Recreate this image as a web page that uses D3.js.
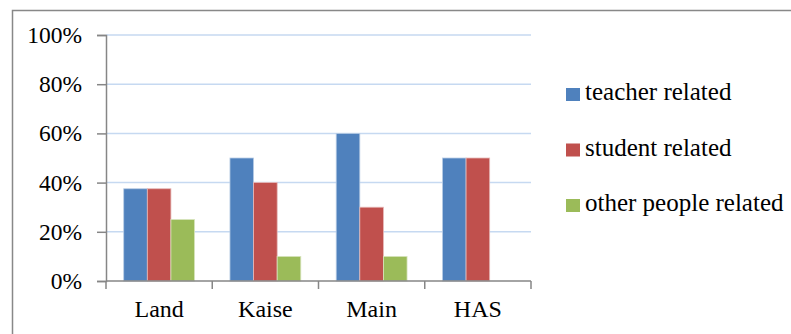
<!DOCTYPE html>
<html>
<head>
<meta charset="utf-8">
<script src="https://cdn.jsdelivr.net/npm/d3@7"></script>
<style>
  html, body { margin: 0; padding: 0; background: #fff; }
  svg { display: block; }
</style>
</head>
<body>
<svg id="chart" width="791" height="334"></svg>
<script>
// Share of mentions by school and category
const schools = ["Land", "Kaise", "Main", "HAS"];
const seriesNames = ["teacher related", "student related", "other people related"];
const teacherRelated = [37.5, 50, 60, 50];
const studentRelated = [37.5, 40, 30, 50];
const otherRelated = [25, 10, 10, 0];
const seriesColors = ["#4f81bd", "#c0504d", "#9bbb59"];
const seriesEdges = ["#b9cde5", "#e6b9b8", "#d7e4bd"];
const yTicks = [0, 20, 40, 60, 80, 100];

const seriesValues = [teacherRelated, studentRelated, otherRelated];
const FONT = "'Liberation Serif', 'Times New Roman', serif";

const svg = d3.select("#chart");

// outer frame
svg.append("rect")
  .attr("x", 12.5).attr("y", 10.5)
  .attr("width", 800).attr("height", 400)
  .attr("fill", "none").attr("stroke", "#888").attr("stroke-width", 1.5);

const plot = { left: 106, right: 531, top: 35, bottom: 281 };

const x0 = d3.scaleBand().domain(schools).range([plot.left, plot.right]).paddingInner(0).paddingOuter(0);
// gap width 150%: the group occupies 3/(3+1.5) of each category
const groupPad = 0.75 / 4.5;
const x1 = d3.scaleBand().domain(d3.range(seriesNames.length))
  .range([x0.bandwidth() * groupPad, x0.bandwidth() * (1 - groupPad)]);
const y = d3.scaleLinear().domain([0, 100]).range([plot.bottom, plot.top]);

// gridlines
svg.append("g")
  .selectAll("line")
  .data(yTicks.filter(d => d > 0))
  .join("line")
  .attr("x1", plot.left).attr("x2", plot.right)
  .attr("y1", d => y(d)).attr("y2", d => y(d))
  .attr("stroke", "#c6d9f1").attr("stroke-width", 1.5);

// bars
const groups = svg.append("g")
  .selectAll("g")
  .data(schools)
  .join("g")
  .attr("transform", d => `translate(${x0(d)},0)`);

groups.selectAll("rect")
  .data((d, i) => seriesValues.map((vals, s) => ({ s, v: vals[i] })).filter(e => e.v > 0))
  .join("rect")
  .attr("x", d => x1(d.s))
  .attr("width", x1.bandwidth())
  .attr("y", d => y(d.v))
  .attr("height", d => y(0) - y(d.v))
  .attr("fill", d => seriesColors[d.s])
  .attr("stroke", d => seriesEdges[d.s])
  .attr("stroke-width", 0.8);

// y axis
const yAxis = d3.axisLeft(y).tickValues(yTicks).tickFormat(d => d + "%").tickSize(9).tickPadding(15);
const yG = svg.append("g").attr("transform", `translate(${plot.left},0)`).call(yAxis);
yG.select(".domain").attr("stroke", "#868686").attr("stroke-width", 1.5);
yG.selectAll(".tick line").attr("stroke", "#868686").attr("stroke-width", 1.5);
yG.selectAll(".tick text")
  .style("font-family", FONT).style("font-size", "23.5px").attr("fill", "#000");

// x axis baseline with ticks at category boundaries
const xG = svg.append("g");
xG.append("line")
  .attr("x1", plot.left).attr("x2", plot.right)
  .attr("y1", plot.bottom).attr("y2", plot.bottom)
  .attr("stroke", "#868686").attr("stroke-width", 1.5);
const bounds = schools.map(s => x0(s)).concat([plot.right]);
xG.selectAll("line.b")
  .data(bounds)
  .join("line")
  .attr("class", "b")
  .attr("x1", d => d).attr("x2", d => d)
  .attr("y1", plot.bottom).attr("y2", plot.bottom + 8)
  .attr("stroke", "#868686").attr("stroke-width", 1.5);
xG.selectAll("text")
  .data(schools)
  .join("text")
  .attr("x", d => x0(d) + x0.bandwidth() / 2)
  .attr("y", 317)
  .attr("text-anchor", "middle")
  .style("font-family", FONT).style("font-size", "24px")
  .attr("fill", "#000")
  .text(d => d);

// legend
const legend = svg.append("g")
  .selectAll("g")
  .data(seriesNames)
  .join("g")
  .attr("transform", (d, i) => `translate(566,${88 + i * 55.5})`);
legend.append("rect")
  .attr("width", 14).attr("height", 13)
  .attr("fill", (d, i) => seriesColors[i]);
legend.append("text")
  .attr("x", 19).attr("y", 12)
  .style("font-family", FONT).style("font-size", "25px")
  .attr("fill", "#000")
  .text(d => d);
</script>
</body>
</html>
